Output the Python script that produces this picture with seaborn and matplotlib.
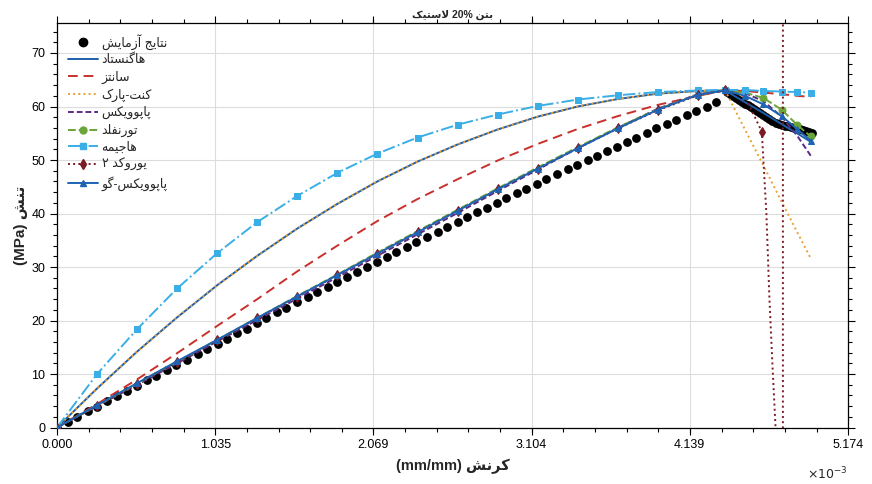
import matplotlib
matplotlib.use("Agg")
import matplotlib.pyplot as plt
from matplotlib.lines import Line2D
from matplotlib.ticker import MultipleLocator, FixedLocator, AutoMinorLocator
import seaborn as sns

# ---- data (strain in 1e-3 mm/mm, stress in MPa) ----
exp_strain = [0.00, 0.07, 0.13, 0.20, 0.26, 0.33, 0.39, 0.46, 0.52, 0.59, 0.65, 0.72, 0.78, 0.85,
              0.92, 0.98, 1.05, 1.11, 1.18, 1.24, 1.31, 1.37, 1.44, 1.50, 1.57, 1.64, 1.70, 1.77,
              1.83, 1.90, 1.96, 2.03, 2.09, 2.16, 2.22, 2.29, 2.35, 2.42, 2.49, 2.55, 2.62, 2.68,
              2.75, 2.81, 2.88, 2.94, 3.01, 3.07, 3.14, 3.20, 3.27, 3.34, 3.40, 3.47, 3.53, 3.60,
              3.66, 3.73, 3.79, 3.86, 3.92, 3.99, 4.05, 4.12, 4.18, 4.25, 4.31,
              4.38, 4.40, 4.42, 4.44, 4.46, 4.48, 4.50, 4.52, 4.54, 4.56, 4.58, 4.60, 4.62, 4.64,
              4.66, 4.68, 4.70, 4.72, 4.74, 4.76, 4.78, 4.80, 4.82, 4.84, 4.86, 4.88, 4.90, 4.92, 4.94]
exp_stress = [0.0, 1.0, 2.0, 3.0, 3.9, 5.0, 5.9, 6.9, 7.8, 8.8, 9.7, 10.8, 11.7, 12.7,
              13.8, 14.7, 15.7, 16.6, 17.6, 18.5, 19.5, 20.4, 21.5, 22.3, 23.4, 24.4, 25.3, 26.3,
              27.2, 28.2, 29.0, 30.0, 30.9, 31.9, 32.8, 33.8, 34.6, 35.6, 36.6, 37.4, 38.4, 39.3,
              40.2, 41.1, 42.0, 42.9, 43.8, 44.6, 45.6, 46.4, 47.4, 48.3, 49.1, 50.0, 50.8, 51.7,
              52.5, 53.4, 54.2, 55.1, 55.9, 56.8, 57.5, 58.4, 59.2, 60.0, 60.8,
              62.8, 62.4, 62.0, 61.6, 61.2, 60.8, 60.5, 60.2, 59.9, 59.6, 59.2, 58.8, 58.4, 58.0,
              57.7, 57.3, 57.0, 56.8, 56.6, 56.4, 56.3, 56.2, 56.0, 55.9, 55.8, 55.6, 55.4, 55.2, 55.0]

model_strain = [0.0, 0.262, 0.524, 0.786, 1.048, 1.31, 1.572, 1.834, 2.096, 2.358, 2.62, 2.882,
                3.144, 3.406, 3.668, 3.93, 4.192, 4.37, 4.50, 4.62, 4.74, 4.84, 4.93]
hognestad = [0, 7.3, 14.2, 20.6, 26.6, 32.1, 37.2, 41.8, 46.0, 49.7, 52.9, 55.7,
             58.1, 60.0, 61.4, 62.4, 62.9, 63.0, 60.8, 58.8, 56.7, 55.0, 53.4]
saenz = [0, 4.4, 9.0, 13.9, 19.0, 24.0, 29.2, 34.0, 38.6, 42.7, 46.4, 49.9,
         53.0, 55.8, 58.2, 60.3, 62.0, 63.0, 62.9, 62.6, 62.3, 62.0, 61.8]
kent_park = [0, 7.3, 14.2, 20.6, 26.6, 32.1, 37.2, 41.8, 46.0, 49.7, 52.9, 55.7,
             58.1, 60.0, 61.4, 62.4, 62.9, 63.0, 55.7, 49.0, 42.2, 36.6, 31.6]
popovics = [0, 4.0, 8.0, 12.0, 16.1, 20.1, 24.1, 28.1, 32.1, 36.1, 40.1, 44.2,
            48.2, 52.2, 56.0, 59.6, 62.3, 63.0, 62.5, 61.0, 58.1, 54.6, 50.8]
thorenfeldt = [0, 4.1, 8.2, 12.3, 16.4, 20.5, 24.6, 28.6, 32.7, 36.7, 40.7, 44.7,
               48.6, 52.4, 56.1, 59.5, 62.2, 63.0, 62.6, 61.6, 59.4, 56.6, 54.4]
hajime = [0, 10.0, 18.4, 26.0, 32.6, 38.4, 43.3, 47.6, 51.2, 54.2, 56.6, 58.5,
          60.1, 61.3, 62.1, 62.7, 63.0, 63.1, 63.1, 62.9, 62.8, 62.7, 62.6]
popovics_go = [0, 4.2, 8.3, 12.4, 16.4, 20.5, 24.5, 28.5, 32.5, 36.5, 40.5, 44.5,
               48.4, 52.2, 55.9, 59.4, 62.2, 63.0, 62.0, 60.4, 58.2, 55.8, 53.6]
ec2_strain = [0.0, 0.262, 0.524, 0.786, 1.048, 1.31, 1.572, 1.834, 2.096, 2.358, 2.62, 2.882,
              3.144, 3.406, 3.668, 3.93, 4.192, 4.37, 4.50, 4.61, 4.64, 4.66, 4.68, 4.70,
              4.72, 4.745, 4.752, 4.77, 4.84, 4.93]
ec2 = [0, 4.1, 8.2, 12.2, 16.3, 20.4, 24.4, 28.5, 32.5, 36.5, 40.5, 44.5,
       48.4, 52.2, 55.9, 59.3, 62.1, 63.0, 61.9, 55.3, 40.0, 24.0, 11.5, 0.0,
       -150.0, -2000.0, 2500.0, 250.0, 130.0, 91.0]

x_ticks = [0.000, 1.035, 2.069, 3.104, 4.139, 5.174]
y_ticks = [0, 10, 20, 30, 40, 50, 60, 70]

# ---- minimal Persian shaping (matplotlib draws glyphs left to right, unshaped) ----
FORMS = {
    'ا': ('\uFE8D', '\uFE8E', None, None), 'آ': ('\uFE81', '\uFE82', None, None),
    'ب': ('\uFE8F', '\uFE90', '\uFE91', '\uFE92'), 'پ': ('\uFB56', '\uFB57', '\uFB58', '\uFB59'),
    'ت': ('\uFE95', '\uFE96', '\uFE97', '\uFE98'), 'ج': ('\uFE9D', '\uFE9E', '\uFE9F', '\uFEA0'),
    'د': ('\uFEA9', '\uFEAA', None, None), 'ر': ('\uFEAD', '\uFEAE', None, None),
    'ز': ('\uFEAF', '\uFEB0', None, None), 'س': ('\uFEB1', '\uFEB2', '\uFEB3', '\uFEB4'),
    'ش': ('\uFEB5', '\uFEB6', '\uFEB7', '\uFEB8'), 'ف': ('\uFED1', '\uFED2', '\uFED3', '\uFED4'),
    'ک': ('\uFB8E', '\uFB8F', '\uFB90', '\uFB91'), 'گ': ('\uFB92', '\uFB93', '\uFB94', '\uFB95'),
    'ل': ('\uFEDD', '\uFEDE', '\uFEDF', '\uFEE0'), 'م': ('\uFEE1', '\uFEE2', '\uFEE3', '\uFEE4'),
    'ن': ('\uFEE5', '\uFEE6', '\uFEE7', '\uFEE8'), 'و': ('\uFEED', '\uFEEE', None, None),
    'ه': ('\uFEE9', '\uFEEA', '\uFEEB', '\uFEEC'), 'ی': ('\uFBFC', '\uFBFD', '\uFBFE', '\uFBFF'),
}


def rtl(text):
    out = []
    i = 0
    while i < len(text):
        ch = text[i]
        prev = text[i - 1] if i > 0 else None
        joins_prev = prev in FORMS and FORMS[prev][2] is not None
        nxt = text[i + 1] if i + 1 < len(text) else None
        if ch == 'ل' and nxt == 'ا':
            out.append('\uFEFC' if joins_prev else '\uFEFB')
            i += 2
            continue
        if ch not in FORMS:
            out.append(ch)
            i += 1
            continue
        f = FORMS[ch]
        joins_next = nxt in FORMS and f[2] is not None
        if joins_prev and joins_next:
            out.append(f[3])
        elif joins_prev:
            out.append(f[1])
        elif joins_next:
            out.append(f[2])
        else:
            out.append(f[0])
        i += 1
    return ''.join(out)[::-1]


sns.set_style("ticks")
plt.rcParams['font.family'] = ['Liberation Sans', 'DejaVu Sans']

fig = plt.figure(figsize=(8.72, 4.84), dpi=100)
ax = fig.add_axes([0.0654, 0.1167, 0.9071, 0.8357])

series = [
    # label, x, y, color, linestyle, marker, markevery
    ('هاگنستاد', model_strain, hognestad, '#1F5FAA', '-', None, None),
    ('سانتز', model_strain, saenz, '#C9302C', (0, (5, 3)), None, None),
    ('کنت-پارک', model_strain, kent_park, '#E9A032', ':', None, None),
    ('پاپوویکس', model_strain, popovics, '#5B2A86', (0, (3, 1.5)), None, None),
    ('تورنفلد', model_strain, thorenfeldt, '#6BA539', (0, (4, 1.5)), 'o', [19, 20, 21, 22]),
    ('هاجیمه', model_strain, hajime, '#3AAEE6', '-.', 's', None),
    ('یوروکد ۲', ec2_strain, ec2, '#7B1A24', ':', 'd', list(range(18)) + [19]),
    ('پاپوویکس-گو', model_strain, popovics_go, '#1E63B4', '-', '^', None),
]

sns.scatterplot(x=exp_strain, y=exp_stress, ax=ax, color='black', s=40,
                edgecolor='black', linewidth=0, legend=False, zorder=2)

handles = [Line2D([], [], ls='none', marker='o', color='black', ms=6)]
labels = [rtl('نتایج آزمایش')]
for name, xs, ys, col, ls, mk, every in series:
    sns.lineplot(x=xs, y=ys, ax=ax, color=col, linestyle=ls, lw=1.4,
                 marker=mk if mk else '', markevery=every, markersize=5,
                 markeredgecolor=col, markerfacecolor=col,
                 estimator=None, sort=False, legend=False, zorder=3)
    handles.append(Line2D([], [], color=col, ls=ls, lw=1.4, marker=mk if mk else '',
                          ms=5, mec=col, mfc=col))
    labels.append(rtl(name))

ax.set_xlim(0, 5.174)
ax.set_ylim(0, 75.6)
ax.xaxis.set_major_locator(FixedLocator(x_ticks))
ax.set_xticklabels([f'{v:.3f}' for v in x_ticks])
ax.xaxis.set_minor_locator(AutoMinorLocator(5))
ax.set_yticks(y_ticks)
ax.yaxis.set_minor_locator(MultipleLocator(2))
ax.grid(True, which='major', color='#dddddd', lw=0.8)
ax.set_axisbelow(True)
for sp in ax.spines.values():
    sp.set_color('black')
    sp.set_linewidth(0.9)
ax.tick_params(which='both', direction='out', top=True, right=True,
               labelsize=9, width=0.8, colors='black')
ax.tick_params(which='major', length=5)
ax.tick_params(which='minor', length=3)

# visual order of the mixed-direction labels as seen in the reference
ax.set_xlabel('(mm/mm) ' + rtl('کرنش'), fontsize=10.5, fontweight='bold', labelpad=5)
ax.set_ylabel('(MPa) ' + rtl('تنش'), fontsize=11, fontweight='bold', labelpad=2)
ax.set_title(rtl('لاستیک') + ' 20% ' + rtl('بتن'), fontsize=7.5, fontweight='bold', pad=4)
ax.text(1.0, -0.094, r'$\times10^{-3}$', transform=ax.transAxes, ha='right', va='top', fontsize=9)

ax.legend(handles, labels, loc='upper left', bbox_to_anchor=(0.005, 0.992), frameon=False,
          fontsize=9, handlelength=2.4, labelspacing=0.36, handletextpad=0.25, borderaxespad=0.2)

fig.savefig('out.png', dpi=100)
